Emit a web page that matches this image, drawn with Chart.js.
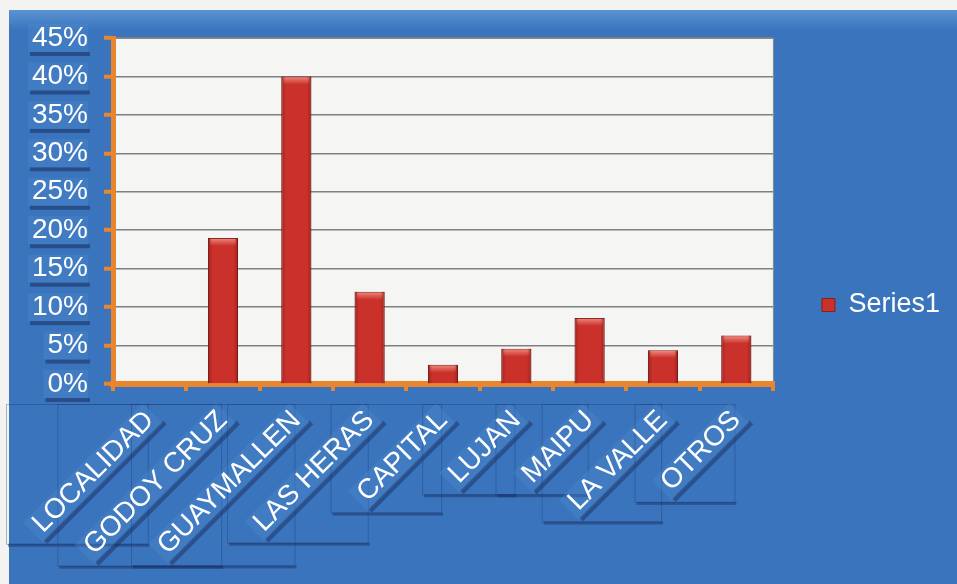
<!DOCTYPE html>
<html><head><meta charset="utf-8">
<script src="https://cdn.jsdelivr.net/npm/chart.js@4.4.1/dist/chart.umd.min.js"></script>
<style>html,body{margin:0;padding:0;background:#f3f4f1;}#wrap{width:957px;height:584px;}</style>
</head><body><div id="wrap"><canvas id="c" width="957" height="584"></canvas></div>
<script>
const categories = ['LOCALIDAD','GODOY CRUZ','GUAYMALLEN','LAS HERAS','CAPITAL','LUJAN','MAIPU','LA VALLE','OTROS'];
const series1 = [0, 19, 40, 12, 2.5, 4.6, 8.6, 4.4, 6.3];
const seriesName = 'Series1';
const yMin = 0, yMax = 45, yStep = 5;

const FONT = '"Liberation Sans", Arial, sans-serif';
const BLUE = '#3a74bc';
const ORANGE = '#e8852e';

const backgroundPlugin = {
  id: 'bg',
  beforeDraw(chart) {
    const ctx = chart.ctx, a = chart.chartArea;
    ctx.save();
    ctx.fillStyle = '#f3f4f1';
    ctx.fillRect(0, 0, chart.width, chart.height);
    const g = ctx.createLinearGradient(0, 10, 0, 30);
    g.addColorStop(0, '#5a94d4');
    g.addColorStop(1, BLUE);
    ctx.fillStyle = g;
    ctx.fillRect(9, 10, chart.width - 9, chart.height - 10);
    ctx.fillStyle = '#f5f6f4';
    ctx.fillRect(a.left, a.top, a.right - a.left, a.bottom - a.top);
    ctx.strokeStyle = '#8a8f96';
    ctx.lineWidth = 1;
    ctx.strokeRect(a.left + 0.5, a.top + 0.5, a.right - a.left, a.bottom - a.top);
    const ys = chart.scales.y;
    ctx.font = '28px ' + FONT;
    ys.ticks.forEach(t => {
      const py = ys.getPixelForValue(t.value);
      const w = ctx.measureText(t.value + '%').width;
      const right = 88, left = right - w - 4;
      ctx.fillStyle = 'rgba(25,45,95,0.55)';
      ctx.fillRect(left + 2, py + 14, w + 4, 4);
      ctx.fillStyle = 'rgba(80,140,210,0.35)';
      ctx.fillRect(left, py - 14, w + 4, 28);
    });
    const xs = chart.scales.x;
    const items = xs.getLabelItems();
    ctx.font = '28px ' + FONT;
    items.forEach(it => {
      const [tx, ty] = it.options.translation;
      const w = ctx.measureText(it.label).width;
      const rot = it.options.rotation;
      const ext = (w + 22) * Math.SQRT1_2;
      ctx.strokeStyle = 'rgba(30,55,110,0.35)';
      ctx.lineWidth = 1;
      ctx.strokeRect(tx - ext - 4 + 0.5, ty + 0.5, ext + 14, ext + 12);
      ctx.fillStyle = 'rgba(25,45,95,0.45)';
      ctx.fillRect(tx - ext - 2, ty + ext + 12, ext + 14, 3);
      ctx.save();
      ctx.translate(tx, ty);
      ctx.rotate(rot);
      ctx.fillStyle = 'rgba(25,45,95,0.5)';
      ctx.fillRect(-w - 4, 13 + it.textOffset, w + 10, 5);
      ctx.fillStyle = 'rgba(80,140,210,0.35)';
      ctx.fillRect(-w - 6, -14 + it.textOffset, w + 10, 28);
      ctx.restore();
    });
    ctx.restore();
  }
};

const legendShift = { dx: 39, dy: -6 };
const layoutPlugin = {
  id: 'legendShift',
  afterLayout(chart) {
    const l = chart.legend;
    l.left += legendShift.dx; l.right += legendShift.dx;
    l.top += legendShift.dy; l.bottom += legendShift.dy;
  }
};

const bevelPlugin = {
  id: 'bevel',
  afterDatasetsDraw(chart) {
    const ctx = chart.ctx;
    chart.getDatasetMeta(0).data.forEach(el => {
      const {x, y, width, base} = el.getProps(['x','y','width','base'], true);
      const h = base - y;
      if (h < 2) return;
      const l = x - width / 2;
      ctx.save();
      const g = ctx.createLinearGradient(0, y, 0, y + 8);
      g.addColorStop(0, 'rgba(255,170,160,0.75)');
      g.addColorStop(1, 'rgba(255,170,160,0)');
      ctx.fillStyle = g;
      ctx.fillRect(l + 2, y + 1, width - 4, Math.min(8, h - 1));
      const s = ctx.createLinearGradient(l, 0, l + width, 0);
      s.addColorStop(0, 'rgba(90,10,10,0.35)');
      s.addColorStop(0.15, 'rgba(90,10,10,0)');
      s.addColorStop(0.85, 'rgba(90,10,10,0)');
      s.addColorStop(1, 'rgba(90,10,10,0.35)');
      ctx.fillStyle = s;
      ctx.fillRect(l, y, width, h);
      ctx.restore();
    });
  }
};

new Chart(document.getElementById('c'), {
  type: 'bar',
  data: {
    labels: categories,
    datasets: [{
      label: seriesName,
      data: series1,
      backgroundColor: '#c9312a',
      borderColor: '#86201b',
      borderWidth: 1,
      categoryPercentage: 1,
      barPercentage: 0.41
    }]
  },
  options: {
    responsive: false,
    animation: false,
    devicePixelRatio: 1,
    layout: { padding: { top: 38, right: 46, left: 0, bottom: 0 } },
    plugins: {
      tooltip: { enabled: false },
      legend: {
        position: 'right',
        labels: {
          color: '#ffffff',
          font: { family: FONT, size: 27 },
          boxWidth: 13, boxHeight: 13, padding: 10
        }
      }
    },
    scales: {
      x: {
        afterFit(s) { s.height = 200; },
        grid: { display: true, drawOnChartArea: false, drawTicks: true, tickLength: 7, color: ORANGE, lineWidth: 4, offset: true },
        border: { color: ORANGE, width: 6 },
        ticks: { color: '#ffffff', font: { family: FONT, size: 28 }, minRotation: 45, maxRotation: 45, autoSkip: false, padding: 13 }
      },
      y: {
        min: yMin, max: yMax,
        afterFit(s) { s.width = 113; },
        grid: { color: '#7d7f82', lineWidth: 1.5, tickColor: ORANGE, tickWidth: 4, tickLength: 9 },
        border: { color: ORANGE, width: 5 },
        ticks: { stepSize: yStep, color: '#ffffff', font: { family: FONT, size: 28 }, padding: 16, callback: v => v + '%' }
      }
    }
  },
  plugins: [backgroundPlugin, layoutPlugin, bevelPlugin]
});
</script></body></html>
